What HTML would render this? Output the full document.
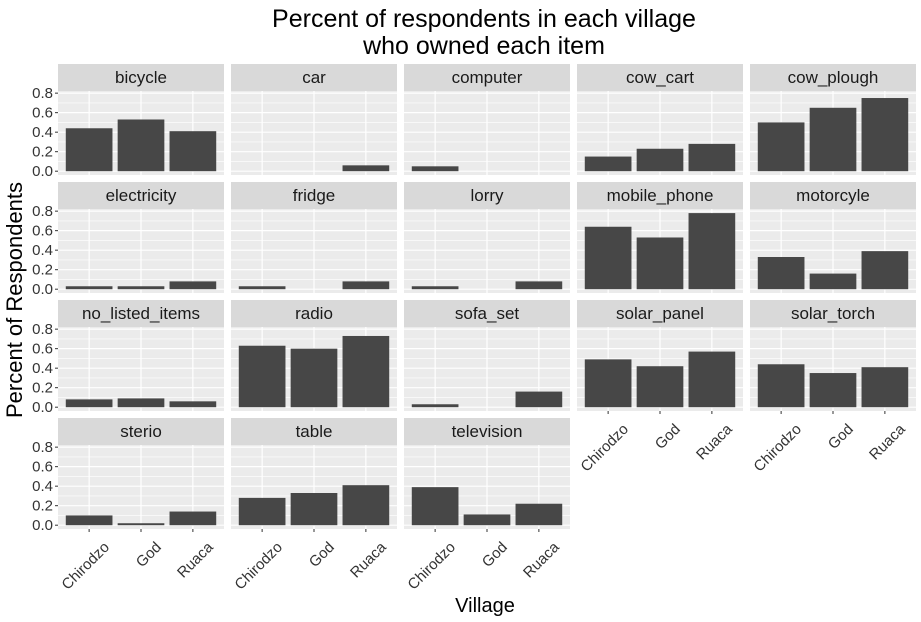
<!DOCTYPE html>
<html><head><meta charset="utf-8"><style>
body{margin:0;background:#fff}
svg{display:block;font-family:"Liberation Sans",Arial,sans-serif}
</style></head><body>
<svg id="c" width="921" height="622">
<text x="484" y="27" text-anchor="middle" font-size="25" fill="#000">Percent of respondents in each village</text>
<text x="484" y="54" text-anchor="middle" font-size="25" fill="#000">who owned each item</text>
<text transform="translate(22,300) rotate(-90)" text-anchor="middle" font-size="22" fill="#000">Percent of Respondents</text>
<text x="485" y="612" text-anchor="middle" font-size="20" fill="#000">Village</text>
</svg>
<script>
const villages=["Chirodzo","God","Ruaca"];
const items=["bicycle","car","computer","cow_cart","cow_plough","electricity","fridge","lorry","mobile_phone","motorcyle","no_listed_items","radio","sofa_set","solar_panel","solar_torch","sterio","table","television"];
const chirodzo=[0.44,0,0.05,0.15,0.50,0.03,0.03,0.03,0.64,0.33,0.08,0.63,0.03,0.49,0.44,0.10,0.28,0.39];
const god=[0.53,0,0,0.23,0.65,0.03,0,0,0.53,0.16,0.09,0.60,0,0.42,0.35,0.02,0.33,0.11];
const ruaca=[0.41,0.06,0,0.28,0.75,0.08,0.08,0.08,0.78,0.39,0.06,0.73,0.16,0.57,0.41,0.14,0.41,0.22];
const yTicks=[0,0.2,0.4,0.6,0.8];
const yTickLabels=["0.0","0.2","0.4","0.6","0.8"];
const series=[chirodzo,god,ruaca];
const NS="http://www.w3.org/2000/svg";
const svg=document.getElementById('c');
function mk(t,a,p){const e=document.createElementNS(NS,t);for(const k in a)e.setAttribute(k,a[k]);(p||svg).appendChild(e);return e;}
const PW=166,GAP=7,X0=58,Y0=64,ROWP=118,STRIP=27,PH=84;
const yMin=-0.039,yMax=0.822;
function yS(v,top){return top+PH-(v-yMin)/(yMax-yMin)*PH;}
function xS(i,left){return left+(i+1-0.4)/3.2*PW;}
items.forEach((name,k)=>{
  const r=Math.floor(k/5),c=k%5;
  const left=X0+c*(PW+GAP),stop=Y0+r*ROWP,top=stop+STRIP,bottom=top+PH;
  const g=mk('g',{});
  
  
  const st=mk('rect',{x:left,y:stop,width:PW,height:STRIP,fill:'#d9d9d9'},g);
  
  
  const stt=mk('text',{x:left+PW/2,y:stop+19,'text-anchor':'middle','font-size':17,fill:'#1a1a1a'},g);
  stt.textContent=name;
  
  
  mk('rect',{x:left,y:top,width:PW,height:PH,fill:'#ebebeb'},g);
  for(let v=0.1;v<0.82;v+=0.2){const y=yS(v,top);mk('line',{x1:left,x2:left+PW,y1:y,y2:y,stroke:'#fff','stroke-width':0.6},g);}
  yTicks.forEach(v=>{const y=yS(v,top);mk('line',{x1:left,x2:left+PW,y1:y,y2:y,stroke:'#fff','stroke-width':1.2},g);});
  villages.forEach((v,i)=>{const x=xS(i,left);mk('line',{x1:x,x2:x,y1:top,y2:bottom,stroke:'#fff','stroke-width':1.2},g);});
  series.forEach((s,i)=>{
    const val=s[k];
    const x=xS(i,left),y=yS(val,top),y0=yS(0,top);
    const b=mk('rect',{x:x-0.45*PW/3.2,y:Math.min(y,y0),width:0.9*PW/3.2,height:Math.abs(y0-y),fill:'#474747'},g);
    
    
  });
  if(c===0){
    yTicks.forEach((v,i)=>{const y=yS(v,top);
      mk('line',{x1:left-3,x2:left,y1:y,y2:y,stroke:'#333','stroke-width':1},g);
      const t=mk('text',{x:left-5,y:y+5,'text-anchor':'end','font-size':15,fill:'#333'},g);
      t.textContent=yTickLabels[i];
      
      
    });
  }
  const isBottom=(r===3)||(r===2&&c>=3);
  if(isBottom){
    villages.forEach((v,i)=>{const x=xS(i,left);
      mk('line',{x1:x,x2:x,y1:bottom,y2:bottom+3,stroke:'#333','stroke-width':1},g);
      const t=mk('text',{transform:'translate('+(x+21)+','+(bottom+19)+') rotate(-45)','text-anchor':'end','font-size':15,fill:'#333'},g);
      t.textContent=v;
      
      
    });
  }
});
</script>
</body></html>
